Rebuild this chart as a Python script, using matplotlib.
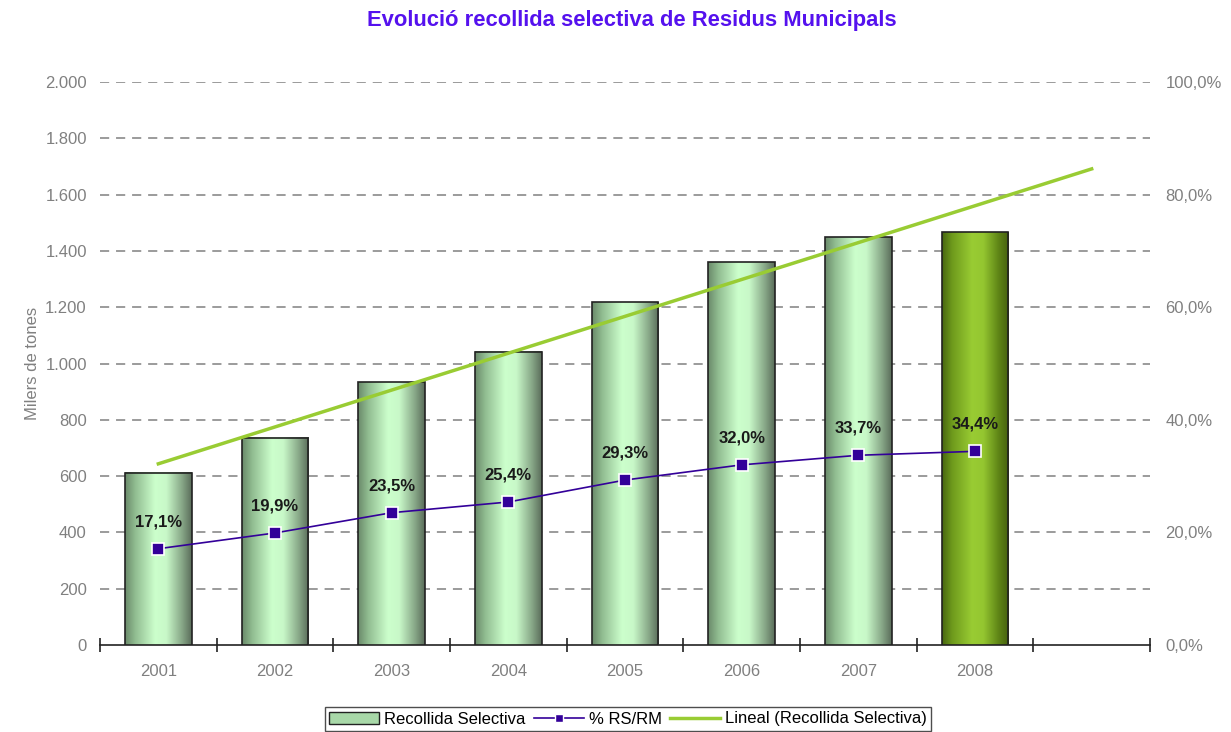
import numpy as np
import matplotlib
matplotlib.use("Agg")
import matplotlib.pyplot as plt
from matplotlib.colors import LinearSegmentedColormap
from matplotlib.lines import Line2D
from matplotlib.patches import Patch
from matplotlib.ticker import FuncFormatter, FixedLocator

plt.rcParams['font.family'] = ['Liberation Sans', 'DejaVu Sans']

years = ['2001', '2002', '2003', '2004', '2005', '2006', '2007', '2008']
recollida = [612, 736, 934, 1041, 1218, 1360, 1448, 1467]
pct_rs_rm = [17.1, 19.9, 23.5, 25.4, 29.3, 32.0, 33.7, 34.4]
pct_labels = ['17,1%', '19,9%', '23,5%', '25,4%', '29,3%', '32,0%', '33,7%', '34,4%']

title = 'Evolució recollida selectiva de Residus Municipals'
ylabel = 'Milers de tones'
legend_labels = ['Recollida Selectiva', '% RS/RM', 'Lineal (Recollida Selectiva)']

gray = '#808080'
fig = plt.figure(figsize=(12.31, 7.32), dpi=100)
ax = fig.add_axes([100/1231, 1-645/732, 1050/1231, (645-82)/732])

x = np.arange(len(years))
nslots = len(years) + 1

cmap_light = LinearSegmentedColormap.from_list('light', [
    (0.0, '#6a8a6a'), (0.15, '#90bc90'), (0.45, '#ccffcc'), (0.62, '#c8f8c8'),
    (0.85, '#88a888'), (1.0, '#5a6c5a')])
cmap_dark = LinearSegmentedColormap.from_list('dark', [
    (0.0, '#476610'), (0.15, '#6e9a1c'), (0.45, '#99cc33'), (0.62, '#94c630'),
    (0.85, '#5e8416'), (1.0, '#46600e')])

bars = ax.bar(x, recollida, width=0.57, facecolor='none', edgecolor='#222222',
              linewidth=1.2, zorder=4)
grad = np.linspace(0, 1, 256).reshape(1, -1)
for i, b in enumerate(bars):
    x0, w, h = b.get_x(), b.get_width(), b.get_height()
    cm = cmap_dark if i == len(bars) - 1 else cmap_light
    ax.imshow(grad, extent=[x0, x0 + w, 0, h], aspect='auto', cmap=cm,
              zorder=3, interpolation='bicubic')

# linear trend, forecast forward one period
coef = np.polyfit(x + 1, recollida, 1)
xt = np.array([0, nslots - 1])
ax.plot(xt, np.polyval(coef, xt + 1), color='#99cc33', linewidth=2.5, zorder=5)

ax.set_xlim(-0.5, nslots - 0.5)
ax.set_ylim(0, 2000)

ax2 = ax.twinx()
ax2.set_ylim(0, 100)
ax2.plot(x, pct_rs_rm, color='#330099', linewidth=1.2, marker='s', markersize=9,
         markerfacecolor='#330099', markeredgecolor='white', markeredgewidth=1.2, zorder=6)
for xi, v, lab in zip(x, pct_rs_rm, pct_labels):
    ax2.annotate(lab, (xi, v), xytext=(0, 14), textcoords='offset points',
                 ha='center', va='bottom', fontsize=12, fontweight='bold', color='#1a1a1a')

# grid
ax.yaxis.set_major_locator(FixedLocator(np.arange(0, 2001, 200)))
for yv in np.arange(200, 2001, 200):
    ax.axhline(yv, color=gray, linewidth=1.1, linestyle=(0, (6, 4.5)), zorder=1)

ax.yaxis.set_major_formatter(FuncFormatter(lambda v, p: f'{int(v):,}'.replace(',', '.')))
ax2.yaxis.set_major_locator(FixedLocator(np.arange(0, 101, 20)))
ax2.yaxis.set_major_formatter(FuncFormatter(lambda v, p: f'{v:.1f}%'.replace('.', ',')))

for a in (ax, ax2):
    for s in ('top', 'left', 'right', 'bottom'):
        a.spines[s].set_visible(False)
ax.spines['bottom'].set_visible(True)
ax.spines['bottom'].set_color('#222222')
ax.spines['bottom'].set_linewidth(1.2)

ax.tick_params(axis='y', length=0, labelsize=12, labelcolor=gray, pad=9.5)
ax2.tick_params(axis='y', length=0, labelsize=12, labelcolor=gray, pad=11)

ax.set_xticks(x)
ax.set_xticklabels(years)
ax.set_xticks(np.arange(-0.5, nslots, 1.0), minor=True)
ax.tick_params(axis='x', which='major', length=0, labelsize=12, labelcolor=gray, pad=14)
ax.tick_params(axis='x', which='minor', length=10, direction='inout', color='#222222', width=1.2)

ax.set_ylabel(ylabel, color=gray, fontsize=12, labelpad=4)

fig.text(0.513, 0.972, title, ha='center', va='center', fontsize=15.8,
         fontweight='bold', color='#5511ee')

handles = [Patch(facecolor='#a8d8a8', edgecolor='#222222', linewidth=1),
           Line2D([], [], color='#330099', linewidth=1.2, marker='s', markersize=6,
                  markerfacecolor='#330099', markeredgecolor='white'),
           Line2D([], [], color='#99cc33', linewidth=2.5)]
leg = fig.legend(handles, legend_labels, loc='center', bbox_to_anchor=(628/1231, 1-719/732),
                 ncol=3, frameon=True, fancybox=False, fontsize=12, handlelength=3.0,
                 handletextpad=0.3, columnspacing=0.5, borderpad=0.25, borderaxespad=0)
leg.get_frame().set_edgecolor('#222222')
leg.get_frame().set_linewidth(1.0)

fig.savefig('out.png', dpi=100)
